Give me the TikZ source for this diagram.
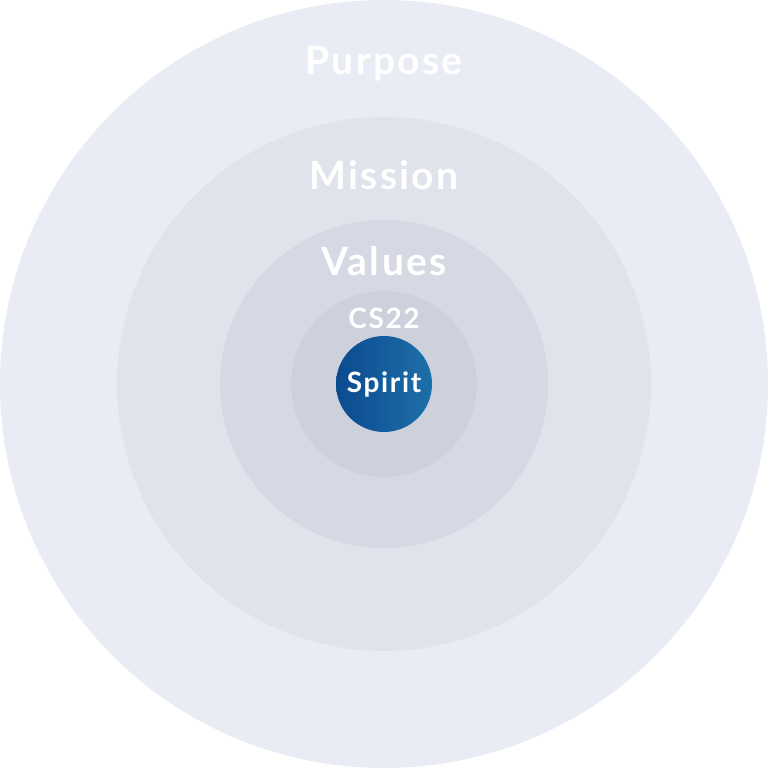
\documentclass[tikz,border=0pt]{standalone}
\usepackage{fontspec}
\setmainfont{Lato}
\newfontfamily\ringfont[LetterSpace=6]{Lato}
\definecolor{ringA}{HTML}{E9ECF4}
\definecolor{ringB}{HTML}{E0E3EC}
\definecolor{ringC}{HTML}{D6D9E3}
\definecolor{ringD}{HTML}{CDD1DC}
\definecolor{spiritL}{HTML}{0C4A8F}
\definecolor{spiritR}{HTML}{1D70A9}
\tikzset{
  ring/.style={circle, draw=none, inner sep=0pt},
  ringlabel/.style={text=white, font=\ringfont\bfseries\fontsize{39}{41}\selectfont},
  smalllabel/.style={text=white, font=\ringfont\bfseries\fontsize{28}{30}\selectfont}
}
\begin{document}
\begin{tikzpicture}[x=1pt, y=1pt]
  \useasboundingbox (0,0) rectangle (768,768);
  % Rings
  \node[ring, fill=ringA, minimum size=768pt] (purpose) at (384,384) {};
  \node[ring, fill=ringB, minimum size=534pt] (mission) at (384,384) {};
  \node[ring, fill=ringC, minimum size=328pt] (values) at (384,384) {};
  \node[ring, fill=ringD, minimum size=186pt] (cs) at (384,384) {};
  \node[ring, left color=spiritL, right color=spiritR, minimum size=96pt] (spirit) at (384,384) {};
  % Labels
  \node[ringlabel] (purposetext) at (384,704) {Purpose};
  \node[ringlabel] (missiontext) at (384,593) {Mission};
  \node[ringlabel] (valuestext) at (384,507) {Values};
  \node[smalllabel] (cstext) at (384,450) {CS22};
  \node[smalllabel] (spirittext) at (spirit) {Spirit};
\end{tikzpicture}
\end{document}
